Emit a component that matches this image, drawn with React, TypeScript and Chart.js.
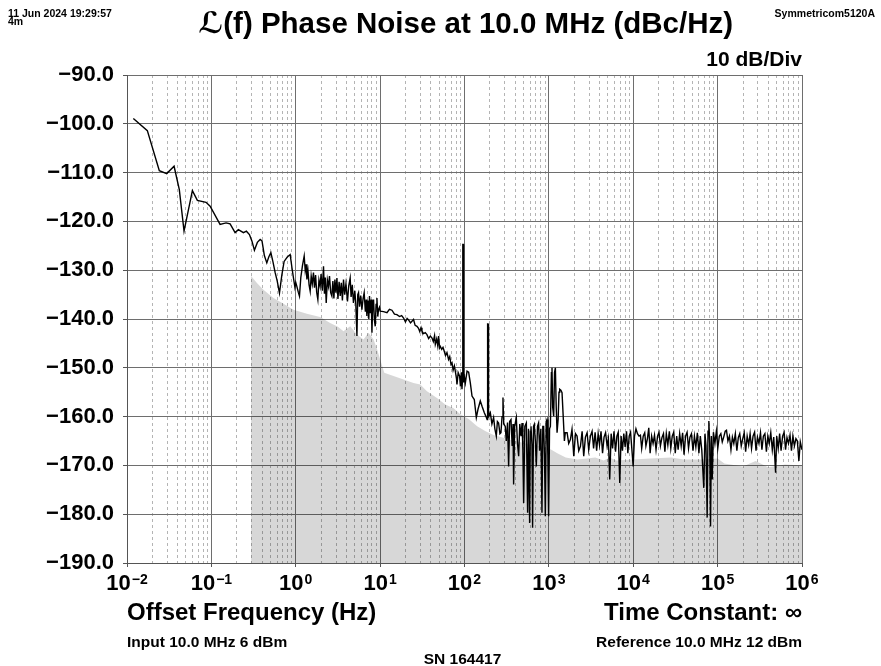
import { useEffect, useRef } from 'react';
import { Chart, registerables } from 'chart.js';

Chart.register(...registerables);

const FONT = "'Liberation Sans', Arial, Helvetica, 'DejaVu Sans', sans-serif";

// ---- axis definitions ----
const yMin = -190;
const yMax = -90;
const yStep = 10;
const xMinHz = 0.01;
const xMaxHz = 1e6;
const decadeExponents = [-2, -1, 0, 1, 2, 3, 4, 5, 6];
const minorMultipliers = [1, 2, 3, 4, 5, 6, 7, 8, 9];

// ---- texts ----
const titleText = 'ℒ(f) Phase Noise at 10.0 MHz (dBc/Hz)';
const dateText = '11 Jun 2024 19:29:57';
const durationText = '4m';
const instrumentText = 'Symmetricom5120A';
const scaleText = '10 dB/Div';
const xAxisTitle = 'Offset Frequency (Hz)';
const timeConstText = 'Time Constant: ∞';
const inputText = 'Input 10.0 MHz 6 dBm';
const refText = 'Reference 10.0 MHz 12 dBm';
const snText = 'SN 164417';

// ---- measured trace: [log10(offset Hz), dBc/Hz] ----
const traceLow: [number, number][] = [
  [-1.925, -98.9], [-1.759, -101.4], [-1.617, -109.6], [-1.529, -110.2], [-1.442, -108.7],
  [-1.380, -113.5], [-1.324, -122.0], [-1.225, -113.7], [-1.166, -115.7], [-1.063, -116.1],
  [-1.015, -116.9], [-0.897, -120.6], [-0.826, -120.3], [-0.778, -120.5], [-0.719, -122.3],
  [-0.680, -121.7], [-0.620, -122.3], [-0.585, -122.0], [-0.549, -122.7], [-0.520, -124.0],
  [-0.490, -125.9], [-0.455, -124.3], [-0.422, -123.7], [-0.400, -124.0], [-0.372, -127.0],
  [-0.343, -128.5], [-0.320, -127.3], [-0.295, -126.4], [-0.270, -128.3], [-0.244, -130.5],
  [-0.220, -132.2], [-0.193, -134.7], [-0.165, -131.0], [-0.138, -128.2], [-0.100, -127.3],
  [-0.066, -126.8], [-0.045, -129.5], [-0.027, -131.6], [-0.010, -133.5],
];

const traceOneToTen: [number, number][] = [
  [0.000, -132.5], [0.013, -133.3], [0.030, -134.5], [0.044, -135.3], [0.060, -131.5],
  [0.080, -129.0], [0.100, -127.1], [0.112, -130.0], [0.122, -128.8], [0.132, -131.9],
  [0.145, -130.2], [0.158, -133.0], [0.171, -134.3], [0.183, -131.2], [0.196, -132.8],
  [0.210, -130.5], [0.222, -133.6], [0.235, -131.0], [0.248, -134.5], [0.262, -136.0],
  [0.275, -132.0], [0.289, -133.3], [0.300, -130.8], [0.315, -134.2], [0.329, -129.2],
  [0.340, -134.8], [0.350, -131.5], [0.361, -136.7], [0.375, -132.0], [0.388, -133.3],
  [0.400, -131.2], [0.414, -134.6], [0.428, -135.3], [0.440, -132.2], [0.452, -135.8],
  [0.464, -131.9], [0.476, -134.6], [0.488, -131.6], [0.500, -135.9], [0.514, -132.4],
  [0.527, -135.3], [0.540, -132.6], [0.553, -136.2], [0.566, -131.9], [0.580, -135.0],
  [0.595, -132.8], [0.613, -136.4], [0.628, -133.2], [0.645, -131.6], [0.656, -135.5],
  [0.670, -133.0], [0.684, -136.7], [0.700, -134.2], [0.712, -137.0], [0.725, -143.5],
  [0.735, -135.0], [0.744, -134.6], [0.756, -137.5], [0.770, -135.2], [0.784, -138.1],
  [0.798, -135.8], [0.811, -134.6], [0.825, -138.5], [0.835, -136.0], [0.843, -139.4],
  [0.855, -136.2], [0.866, -140.0], [0.874, -135.3], [0.885, -138.8], [0.895, -136.0],
  [0.903, -142.8], [0.912, -137.2], [0.922, -136.0], [0.932, -140.2], [0.942, -141.5],
  [0.952, -137.0], [0.962, -135.7], [0.972, -139.5], [0.981, -138.1], [0.992, -137.6],
  [1.001, -138.4],
];

const traceTenToHundred: [number, number][] = [
  [1.040, -138.5], [1.081, -138.7], [1.110, -138.0], [1.140, -138.2], [1.170, -139.0],
  [1.199, -139.1], [1.230, -139.5], [1.255, -139.3], [1.278, -139.8], [1.300, -140.6],
  [1.320, -139.9], [1.337, -140.2], [1.360, -140.8], [1.380, -140.4], [1.396, -140.1],
  [1.415, -141.3], [1.437, -141.5], [1.455, -141.9], [1.470, -142.6], [1.485, -141.8],
  [1.496, -142.5], [1.515, -143.0], [1.535, -142.8], [1.555, -143.2], [1.575, -144.0],
  [1.595, -143.5], [1.615, -143.9], [1.630, -144.6], [1.645, -143.4], [1.654, -145.2],
  [1.670, -144.1], [1.683, -145.5], [1.693, -143.5], [1.705, -145.9], [1.713, -145.6],
  [1.730, -146.2], [1.745, -145.8], [1.760, -146.6], [1.775, -147.5], [1.792, -146.9],
  [1.811, -148.3], [1.825, -147.7], [1.840, -149.3], [1.852, -149.0], [1.865, -150.5],
  [1.880, -149.6], [1.891, -150.7], [1.905, -152.2], [1.911, -153.4], [1.925, -151.0],
  [1.942, -151.7], [1.952, -153.8], [1.962, -150.9], [1.970, -154.4], [1.976, -152.6],
  [1.980, -124.7], [1.985, -124.7], [1.990, -153.0], [2.000, -152.0],
];

const traceHundredToK: [number, number][] = [
  [2.010, -153.1], [2.030, -150.7], [2.049, -150.9], [2.069, -153.1], [2.089, -155.8],
  [2.116, -156.5], [2.140, -160.2], [2.160, -158.5], [2.187, -156.8], [2.210, -158.0],
  [2.235, -159.2], [2.255, -160.0], [2.268, -160.6], [2.274, -141.0], [2.279, -141.0],
  [2.285, -160.0], [2.306, -159.2], [2.325, -161.5], [2.345, -160.2], [2.360, -162.5],
  [2.377, -164.0], [2.390, -161.0], [2.404, -161.3], [2.420, -163.5], [2.432, -163.3],
  [2.445, -160.0], [2.456, -156.1], [2.465, -161.5], [2.483, -162.0], [2.495, -165.0],
  [2.510, -161.2], [2.523, -170.2], [2.535, -161.0], [2.551, -160.6], [2.565, -166.0],
  [2.575, -161.5], [2.582, -173.9], [2.595, -162.0], [2.614, -160.2], [2.628, -165.5],
  [2.642, -168.1], [2.655, -161.5], [2.670, -164.0], [2.682, -161.3], [2.692, -167.0],
  [2.701, -177.7], [2.715, -162.0], [2.733, -161.3], [2.748, -179.7], [2.758, -162.5],
  [2.772, -181.8], [2.780, -163.0], [2.788, -162.0], [2.800, -166.0], [2.807, -182.8],
  [2.818, -162.0], [2.827, -161.6], [2.840, -165.0], [2.851, -170.2], [2.865, -162.0],
  [2.878, -161.3], [2.890, -167.0], [2.905, -162.5], [2.918, -179.7], [2.928, -162.0],
  [2.938, -162.0], [2.948, -168.0], [2.958, -180.4], [2.968, -161.0], [2.978, -160.6],
  [2.988, -168.0], [2.997, -180.4], [3.008, -162.5], [3.018, -162.0], [3.030, -151.0],
  [3.037, -150.0], [3.045, -158.0], [3.057, -159.9], [3.067, -151.0], [3.077, -150.0],
  [3.087, -158.0], [3.097, -163.3], [3.110, -160.5], [3.120, -155.0], [3.128, -154.4],
  [3.142, -154.6], [3.156, -155.1], [3.170, -160.0], [3.184, -165.0],
];

const traceFloor: [number, number][] = [
  [3.195, -163.3], [3.216, -163.3], [3.235, -165.5], [3.255, -164.7], [3.274, -162.6],
  [3.295, -168.1], [3.315, -163.5], [3.334, -164.0], [3.354, -167.0], [3.374, -166.1],
  [3.394, -163.0], [3.413, -168.1], [3.433, -164.2], [3.453, -163.3], [3.472, -166.8],
  [3.492, -164.0], [3.512, -163.0], [3.530, -166.5], [3.548, -163.2], [3.566, -167.0],
  [3.584, -163.5], [3.600, -165.8], [3.618, -163.0], [3.636, -167.5], [3.654, -164.2],
  [3.672, -163.3], [3.690, -166.0], [3.705, -164.5], [3.721, -172.9], [3.738, -163.5],
  [3.755, -166.5], [3.772, -163.0], [3.790, -167.2], [3.806, -164.0], [3.822, -163.2],
  [3.840, -173.6], [3.856, -164.0], [3.872, -167.0], [3.888, -163.5], [3.904, -166.2],
  [3.920, -163.0], [3.936, -167.5], [3.952, -164.0], [3.968, -163.2], [3.984, -166.8],
  [3.999, -170.2], [4.015, -164.0], [4.032, -162.5], [4.050, -163.5], [4.068, -164.0],
  [4.085, -163.8], [4.100, -166.5], [4.118, -164.0], [4.136, -163.3], [4.150, -166.0],
  [4.168, -164.5], [4.184, -162.3], [4.200, -167.5], [4.218, -164.0], [4.235, -165.5],
  [4.252, -163.8], [4.270, -166.8], [4.288, -164.0], [4.305, -163.2], [4.322, -166.0],
  [4.340, -164.3], [4.358, -163.5], [4.375, -167.2], [4.392, -163.5], [4.410, -165.8],
  [4.428, -163.0], [4.445, -166.5], [4.462, -164.0], [4.480, -163.2], [4.498, -167.5],
  [4.515, -164.0], [4.532, -166.8], [4.550, -163.5], [4.568, -166.0], [4.585, -163.3],
  [4.602, -167.8], [4.620, -164.0], [4.638, -163.2], [4.655, -166.5], [4.672, -164.2],
  [4.690, -163.5], [4.708, -167.0], [4.725, -164.0], [4.742, -166.2], [4.760, -163.3],
  [4.778, -167.5], [4.795, -164.0], [4.812, -166.8], [4.836, -174.6], [4.850, -163.5],
  [4.862, -166.0], [4.876, -180.7], [4.886, -163.0], [4.896, -160.9], [4.906, -165.5],
  [4.916, -182.5], [4.926, -164.0], [4.936, -172.9], [4.950, -163.2], [4.968, -165.5],
  [4.985, -163.0], [5.002, -166.5], [5.020, -164.0], [5.038, -163.5], [5.055, -165.2],
  [5.072, -164.2], [5.090, -163.0], [5.105, -162.8], [5.122, -165.0], [5.140, -164.0],
  [5.158, -166.8], [5.175, -164.2], [5.192, -165.5], [5.210, -163.5], [5.228, -167.0],
  [5.245, -164.3], [5.262, -163.5], [5.280, -166.0], [5.298, -164.5], [5.315, -163.3],
  [5.332, -167.2], [5.350, -164.0], [5.368, -165.8], [5.385, -163.5], [5.402, -166.5],
  [5.420, -164.0], [5.438, -163.2], [5.455, -167.0], [5.472, -164.2], [5.490, -165.5],
  [5.508, -163.3], [5.525, -166.8], [5.542, -164.0], [5.560, -163.5], [5.578, -167.2],
  [5.595, -164.0], [5.612, -165.5], [5.630, -163.3], [5.648, -166.8], [5.665, -164.2],
  [5.687, -171.5], [5.700, -164.0], [5.718, -166.5], [5.735, -163.5], [5.752, -167.0],
  [5.770, -164.0], [5.788, -163.2], [5.805, -166.8], [5.822, -164.3], [5.840, -165.5],
  [5.858, -163.8], [5.875, -167.0], [5.892, -164.0], [5.910, -166.0], [5.928, -164.5],
  [5.945, -165.0], [5.963, -169.1], [5.980, -165.2], [6.000, -166.8],
];

// ---- system noise floor (grey region): [log10(offset Hz), dBc/Hz] ----
const noiseFloor: [number, number][] = [
  [-0.529, -131.2], [-0.460, -132.6], [-0.383, -134.0], [-0.264, -135.7], [-0.150, -136.8],
  [-0.027, -138.1], [0.132, -138.9], [0.289, -139.6], [0.408, -140.8], [0.500, -141.6],
  [0.566, -142.5], [0.645, -141.5], [0.725, -143.2], [0.803, -144.2], [0.862, -142.8],
  [0.922, -144.2], [0.960, -146.0], [1.001, -148.3], [1.049, -151.0], [1.159, -151.7],
  [1.278, -152.4], [1.396, -153.1], [1.476, -153.4], [1.555, -154.8], [1.674, -156.2],
  [1.772, -157.5], [1.871, -158.3], [1.950, -159.5], [2.050, -160.5], [2.150, -162.0],
  [2.250, -163.0], [2.350, -163.8], [2.450, -164.3], [2.550, -164.8], [2.650, -165.2],
  [2.800, -165.8], [2.950, -166.2], [3.020, -166.7], [3.100, -167.5], [3.200, -168.4],
  [3.334, -168.8], [3.450, -168.6], [3.550, -168.4], [3.650, -169.0], [3.720, -168.4],
  [3.800, -169.0], [4.000, -168.8], [4.200, -168.6], [4.450, -168.4], [4.600, -168.8],
  [4.800, -168.8], [5.000, -168.6], [5.080, -169.6], [5.300, -170.2], [5.450, -169.1],
  [5.600, -170.4], [5.800, -169.8], [6.000, -170.0],
];

const isDecade = (v: number | undefined) => {
  if (v === undefined || v <= 0) return false;
  const l = Math.log10(v);
  return Math.abs(l - Math.round(l)) < 1e-6;
};

export default function App() {
  const ref = useRef<HTMLCanvasElement>(null);

  useEffect(() => {
    const canvas = ref.current;
    if (!canvas) return;

    const toXY = (pts: [number, number][]) => pts.map(([lf, db]) => ({ x: Math.pow(10, lf), y: db }));
    const trace = toXY([...traceLow, ...traceOneToTen, ...traceTenToHundred, ...traceHundredToK, ...traceFloor]);
    const floor = toXY(noiseFloor);

    const gridValues: number[] = [];
    for (let i = 0; i < decadeExponents.length - 1; i++) {
      for (const m of minorMultipliers) gridValues.push(m * Math.pow(10, decadeExponents[i]));
    }
    gridValues.push(Math.pow(10, decadeExponents[decadeExponents.length - 1]));

    const bold = (s: number) => `bold ${s}px ${FONT}`;

    const textPlugin = {
      id: 'pnTexts',
      afterDraw(chart: any) {
        const { ctx, chartArea: a } = chart;
        const xs = chart.scales.x;
        ctx.save();
        ctx.fillStyle = '#000';
        ctx.textBaseline = 'alphabetic';

        // x tick labels 10^n
        for (const e of decadeExponents) {
          const px = xs.getPixelForValue(Math.pow(10, e));
          ctx.font = bold(22);
          const base = '10';
          const bw = ctx.measureText(base).width;
          ctx.font = bold(14);
          const sup = e < 0 ? '−' + Math.abs(e) : String(e);
          const sw = ctx.measureText(sup).width;
          const total = bw + 1 + sw;
          const x0 = px - total / 2;
          ctx.textAlign = 'left';
          ctx.font = bold(22);
          ctx.fillText(base, x0, a.bottom + 27);
          ctx.font = bold(14);
          ctx.fillText(sup, x0 + bw + 1, a.bottom + 21);
        }

        // header
        ctx.font = bold(10.5);
        ctx.textAlign = 'left';
        ctx.fillText(dateText, 8, 17);
        ctx.fillText(durationText, 8, 25);
        ctx.textAlign = 'right';
        ctx.fillText(instrumentText, 875, 17);

        ctx.font = bold(29.5);
        ctx.textAlign = 'center';
        ctx.fillText(titleText, (a.left + a.right) / 2 + 1, 33);

        ctx.font = bold(21);
        ctx.textAlign = 'right';
        ctx.fillText(scaleText, a.right, 66);

        // footer
        ctx.font = bold(24);
        ctx.textAlign = 'left';
        ctx.fillText(xAxisTitle, a.left, a.bottom + 57);
        ctx.textAlign = 'right';
        ctx.fillText(timeConstText, a.right, a.bottom + 57);

        ctx.font = bold(15.5);
        ctx.textAlign = 'left';
        ctx.fillText(inputText, a.left, a.bottom + 84);
        ctx.textAlign = 'right';
        ctx.fillText(refText, a.right, a.bottom + 84);
        ctx.textAlign = 'center';
        ctx.fillText(snText, (a.left + a.right) / 2 - 2, a.bottom + 101);
        ctx.restore();
      },
    };

    const chart = new Chart(canvas, {
      type: 'line',
      data: {
        datasets: [
          {
            label: 'L(f)',
            data: trace,
            borderColor: '#000',
            borderWidth: 1.4,
            pointRadius: 0,
            fill: false,
            tension: 0,
            order: 0,
          },
          {
            label: 'floor',
            data: floor,
            borderWidth: 0,
            borderColor: 'rgba(0,0,0,0)',
            backgroundColor: 'rgba(0,0,0,0.155)',
            pointRadius: 0,
            fill: 'start',
            tension: 0,
            order: 1,
          },
        ],
      },
      options: {
        responsive: false,
        animation: false,
        events: [],
        layout: { padding: { left: 0, right: 79, top: 75, bottom: 73 } },
        plugins: {
          legend: { display: false },
          tooltip: { enabled: false },
          title: { display: false },
        },
        scales: {
          x: {
            type: 'logarithmic',
            min: xMinHz,
            max: xMaxHz,
            afterBuildTicks: (s: any) => {
              s.ticks = gridValues.map((v) => ({ value: v, major: isDecade(v) }));
            },
            afterFit: (s: any) => {
              s.height = 30;
            },
            ticks: { display: false, autoSkip: false },
            grid: {
              color: (c: any) => (isDecade(c.tick?.value) ? '#6e6e6e' : '#b4b4b4'),
              lineWidth: 1,
              tickLength: 4,
              tickColor: (c: any) => (isDecade(c.tick?.value) ? '#555' : 'rgba(0,0,0,0)'),
            },
            border: {
              display: true,
              color: '#555',
              width: 1,
              dash: (c: any) => (c.tick && !isDecade(c.tick.value) ? [3, 3] : []),
            },
          },
          y: {
            type: 'linear',
            min: yMin,
            max: yMax,
            afterFit: (s: any) => {
              s.width = 127;
            },
            ticks: {
              stepSize: yStep,
              autoSkip: false,
              padding: 9,
              color: '#000',
              font: { family: FONT, size: 22, weight: 'bold' },
              callback: (v: any) => (Number(v) < 0 ? '−' : '') + Math.abs(Number(v)).toFixed(1),
            },
            grid: { color: '#6e6e6e', lineWidth: 1, tickLength: 4, tickColor: '#555' },
            border: { display: true, color: '#555', width: 1 },
          },
        },
      },
      plugins: [textPlugin],
    } as any);

    return () => chart.destroy();
  }, []);

  return (
    <div style={{ position: 'absolute', left: 0, top: 0, width: 881, height: 666, background: '#fff' }}>
      <canvas ref={ref} width={881} height={666} style={{ display: 'block', width: 881, height: 666 }} />
    </div>
  );
}
